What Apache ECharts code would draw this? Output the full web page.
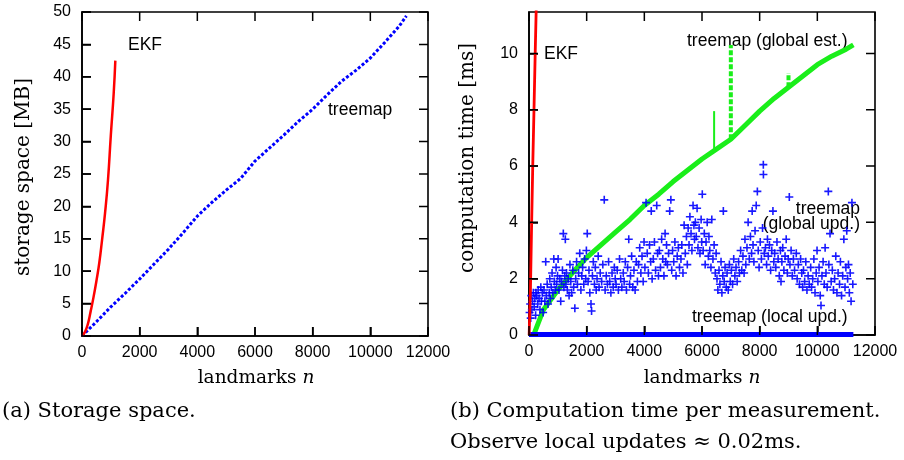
<!DOCTYPE html>
<html>
<head>
<meta charset="utf-8">
<script src="https://cdn.jsdelivr.net/npm/echarts@6/dist/echarts.min.js"></script>
<style>
html,body{margin:0;padding:0;background:#fff;}
#chart{width:904px;height:460px;}
</style>
</head>
<body>
<div id="chart"></div>
<script>
// ---------- data ----------
// tick values
const landmarkTicks = [0, 2000, 4000, 6000, 8000, 10000, 12000];
const storageTicks  = [0, 5, 10, 15, 20, 25, 30, 35, 40, 45, 50];
const timeTicks     = [0, 2, 4, 6, 8, 10];

// (a) storage space [MB] vs landmarks n
const storageEkfN  = [0, 100, 200, 300, 400, 500, 600, 700, 800, 900, 1000, 1100, 1156];
const storageEkfMB = [0, 0.6, 1.8, 3.8, 6.0, 8.5, 11.3, 15.0, 19.0, 24.0, 31.0, 37.5, 42.5];
const storageTreeN  = [0, 500, 1000, 1500, 2000, 2500, 3000, 3500, 4000, 4500, 5000, 5500, 6000, 6500, 7000, 7500, 8000, 8500, 9000, 9500, 10000, 10500, 11000, 11250];
const storageTreeMB = [0, 2.2, 4.5, 6.6, 8.8, 11.1, 13.4, 15.9, 18.5, 20.6, 22.5, 24.3, 27.0, 29.0, 31.0, 33.1, 35.0, 37.2, 39.3, 41.0, 42.9, 45.3, 47.8, 49.4];

// (b) computation time [ms] vs landmarks n
const timeEkfN  = [5, 50, 92, 130, 173, 215, 255];
const timeEkfMs = [0, 1.6, 4.0, 6.0, 8.0, 10.0, 11.8];
const globalEstN  = [180, 500, 1000, 1500, 2000, 2500, 3000, 3500, 4000, 4500, 5000, 5500, 6000, 6500, 7000, 7500, 8000, 8500, 9000, 9500, 10000, 10500, 11000, 11250];
const globalEstMs = [0.05, 0.9, 1.6, 2.2, 2.75, 3.2, 3.65, 4.1, 4.6, 5.0, 5.45, 5.85, 6.25, 6.6, 6.95, 7.45, 7.95, 8.4, 8.8, 9.2, 9.6, 9.9, 10.15, 10.3];
// spikes: [n, from ms, to ms]
const globalEstSpikes = [[6420, 6.5, 7.95], [7000, 6.95, 10.3], [9000, 8.8, 9.3]];
const localUpdN  = [0, 11250];
const localUpdMs = [0.02, 0.02];
// treemap (global upd.) measurements: [n, ms]
const globalUpd = [
[20,0.8],[40,1.1],[60,0.6],[80,1.4],[100,0.9],[120,1.2],[150,1.5],[180,1.0],[200,1.3],[230,0.7],[240,1.5],
[270,1.4],[300,1.1],[320,1.6],[350,1.3],[380,0.9],[410,1.7],[430,1.2],[460,1.5],[490,0.8],
[520,1.6],[550,1.2],[580,2.6],[600,1.4],[630,1.8],[660,1.1],[700,1.5],[720,2.0],[740,1.3],
[770,1.7],[800,2.2],[830,1.5],[860,2.7],[880,1.9],[910,1.6],[940,2.4],[960,1.8],[990,2.1],
[1010,2.7],[1040,1.6],[1070,2.0],[1100,1.2],[1130,1.9],[1160,2.3],[1190,3.6],[1210,1.7],[1240,2.1],
[1260,3.4],[1280,1.8],[1300,2.2],[1330,1.6],[1360,2.0],[1390,1.4],[1420,2.5],[1450,1.9],[1480,1.5],
[1520,2.3],[1550,1.7],[1590,0.95],[1620,2.0],[1650,2.6],[1680,1.8],[1720,2.2],
[1760,2.9],[1800,1.6],[1830,2.1],[1860,2.4],[1900,1.8],[1930,2.7],[1970,2.0],[1990,3.0],
[2020,3.6],[2050,1.9],[2080,2.3],[2110,1.5],[2150,1.1],[2170,0.85],[2200,2.1],[2230,2.6],
[2270,1.8],[2300,2.4],[2330,1.6],[2360,2.0],[2400,2.8],[2430,1.7],[2470,2.2],
[2520,1.9],[2560,2.5],[2610,4.8],[2640,1.6],[2680,2.1],[2720,1.8],
[2760,2.6],[2800,1.9],[2840,1.5],[2880,2.2],[2920,1.7],[2960,2.4],[2990,2.0],
[3020,1.8],[3060,2.3],[3100,1.6],[3140,2.7],[3180,2.0],[3220,1.7],
[3270,2.2],[3300,1.9],[3340,2.6],[3380,1.6],[3420,2.4],[3460,3.4],[3490,1.8],
[3520,2.1],[3560,2.8],[3600,1.7],[3640,2.3],[3680,1.6],[3720,2.6],
[3760,1.9],[3800,2.5],[3840,3.1],[3880,2.2],[3920,2.8],[3960,1.9],[3990,3.3],
[4020,2.4],[4060,4.7],[4100,2.9],[4140,2.2],[4180,3.2],[4220,2.6],[4240,4.4],
[4270,2.0],[4310,2.7],[4350,3.3],[4390,2.3],[4430,4.6],[4460,2.9],[4490,2.1],
[4520,3.0],[4560,2.4],[4600,3.4],[4640,2.7],[4680,2.1],[4720,3.6],[4740,2.6],
[4770,3.2],[4800,2.5],[4840,2.9],[4880,4.4],[4920,4.8],[4950,2.3],[4980,3.0],
[5020,2.6],[5060,3.3],[5100,2.1],[5140,2.8],[5180,3.1],[5220,2.4],
[5270,2.7],[5300,3.2],[5340,2.2],[5380,3.9],[5420,2.9],[5460,3.5],[5490,2.5],
[5520,3.8],[5550,3.2],[5580,4.2],[5620,3.6],[5650,3.0],[5690,4.6],[5720,3.9],[5740,3.4],
[5770,4.0],[5800,3.5],[5830,4.5],[5860,3.1],[5900,3.8],[5930,2.9],[5970,4.1],[5990,3.3],
[6010,5.0],[6040,3.0],[6080,3.6],[6110,2.5],[6140,3.3],[6180,4.0],[6220,2.8],[6240,3.5],
[6270,3.0],[6310,2.4],[6340,4.1],[6380,2.7],[6420,3.2],[6460,2.2],[6490,2.9],
[6520,2.0],[6550,1.6],[6590,2.3],[6620,1.8],[6660,2.6],[6690,1.5],[6720,2.1],[6740,4.4],
[6770,1.9],[6800,2.4],[6840,1.7],[6870,2.2],[6910,1.6],[6950,2.5],[6980,1.9],
[7020,2.3],[7060,1.8],[7100,2.7],[7140,2.1],[7180,2.4],[7220,1.9],
[7270,2.6],[7300,2.2],[7340,3.0],[7380,2.3],[7420,2.8],[7460,2.2],[7490,3.4],
[7520,2.5],[7560,3.1],[7600,4.0],[7640,2.7],[7680,3.5],[7720,2.9],[7740,4.4],
[7770,3.2],[7800,2.6],[7840,3.7],[7880,4.6],[7920,5.1],[7950,3.0],[7980,2.4],
[8020,3.3],[8060,2.7],[8100,3.8],[8127,6.05],[8130,5.7],[8160,2.9],[8200,3.1],[8240,2.5],
[8270,3.4],[8300,2.8],[8340,3.2],[8380,2.3],[8420,3.0],[8460,4.4],[8490,2.6],
[8520,2.9],[8560,2.4],[8600,3.3],[8640,2.7],[8680,2.1],[8720,3.0],[8740,1.9],
[8770,2.6],[8800,3.1],[8840,2.3],[8880,2.8],[8920,3.4],[8960,2.2],[8990,2.7],
[9028,4.9],[9050,2.5],[9090,3.0],[9130,2.1],[9170,2.7],[9210,2.3],
[9270,2.9],[9300,2.0],[9340,2.5],[9380,1.8],[9420,2.7],[9460,2.2],[9490,1.7],
[9520,2.3],[9560,1.9],[9600,2.6],[9640,1.6],[9680,2.1],[9720,1.8],
[9770,2.4],[9800,1.7],[9840,2.0],[9880,2.7],[9920,1.5],[9960,2.2],[9990,3.0],
[10020,1.9],[10060,2.4],[10100,1.4],[10127,1.05],[10160,2.1],[10200,2.6],[10240,1.8],
[10270,3.1],[10300,2.2],[10340,1.7],[10381,5.1],[10400,2.5],[10440,3.6],[10480,1.9],
[10520,2.3],[10560,1.6],[10600,2.0],[10640,2.8],[10680,1.5],[10720,2.2],
[10770,1.8],[10800,2.6],[10840,1.4],[10880,2.1],[10920,3.4],[10960,1.7],[10990,2.4],
[11020,3.7],[11050,2.0],[11080,2.5],[11110,1.5],[11140,2.2],[11170,1.2],[11200,4.7],[11230,1.8]
];

// ---------- rendering ----------
const RED = '#ff0000', GREEN = '#1aee1a', BLUE = '#0000ff';
const SANS = 'Liberation Sans', SERIF = 'DejaVu Serif';
const zip = (a, b) => a.map((v, i) => [v, b[i]]);
const PLUS = 'path://M4,0H6V4H10V6H6V10H4V6H0V4H4Z';
const GRIDS = [
  {left: 82, top: 12, width: 346, height: 324, show: true, borderColor: '#000', borderWidth: 1.6, backgroundColor: 'rgba(0,0,0,0)'},
  {left: 529, top: 12, width: 346, height: 323, show: true, borderColor: '#000', borderWidth: 1.6, backgroundColor: 'rgba(0,0,0,0)'}
];
const X_MAX = 12000;
const Y_MAX = [50, 11.47];
const TL = 9;
const TICK = {show: true, inside: true, length: TL, lineStyle: {color: '#000', width: 1.5}};

function xAxis(grid) {
  return {type: 'value', gridIndex: grid, min: 0, max: X_MAX, interval: 2000, position: 'bottom',
    splitLine: {show: false}, axisTick: TICK,
    axisLine: {show: true, onZero: false, lineStyle: {color: '#000', width: 1.6}},
    axisLabel: {color: '#000', fontFamily: SANS, fontSize: 16, margin: 9, formatter: v => String(v)}};
}
function yAxis(grid, interval) {
  const max = Y_MAX[grid];
  return {type: 'value', gridIndex: grid, min: 0, max: max, interval: interval, position: 'left',
    splitLine: {show: false}, axisTick: TICK,
    axisLine: {show: true, onZero: false, lineStyle: {color: '#000', width: 1.6}},
    axisLabel: {color: '#000', fontFamily: SANS, fontSize: 16, margin: 11, showMaxLabel: max % interval === 0, formatter: v => String(v)}};
}
const P = [{xAxisIndex: 0, yAxisIndex: 0}, {xAxisIndex: 1, yAxisIndex: 1}];

// gnuplot-style inward ticks on all four sides, as short segments in data space
// (pixel length converted through each grid's scale)
function tickSeries(grid, yTicks) {
  const dy = TL / GRIDS[grid].height * Y_MAX[grid];
  const dx = TL / GRIDS[grid].width * X_MAX;
  const data = [];
  landmarkTicks.forEach(v => {
    data.push([v, 0], [v, dy], [v, '-']);
    data.push([v, Y_MAX[grid]], [v, Y_MAX[grid] - dy], [v, '-']);
  });
  yTicks.forEach(v => {
    data.push([0, v], [dx, v], ['-', v]);
    data.push([X_MAX, v], [X_MAX - dx, v], ['-', v]);
  });
  return Object.assign({
    type: 'line', symbol: 'none', silent: true, clip: false, connectNulls: false, data: data, z: 20,
    lineStyle: {color: '#000', width: 1.5}
  }, P[grid]);
}

const spikeSeries = globalEstSpikes.map((s, i) => Object.assign({
  type: 'line', symbol: 'none', silent: true,
  data: [[s[0], s[1]], [s[0], s[2]]],
  lineStyle: {color: GREEN, width: i === 0 ? 2 : 4, type: i === 0 ? 'solid' : [5, 2]},
  z: 3
}, P[1]));

const txt = (x, y, text, opts) => ({
  type: 'text', x: x, y: y,
  style: Object.assign({text: text, fill: '#000', font: '17.5px "' + SANS + '"', textVerticalAlign: 'middle'}, opts || {})
});
const serifRich = size => ({
  r: {fontFamily: SERIF, fontSize: size, fill: '#000'},
  i: {fontFamily: SERIF, fontSize: size, fontStyle: 'italic', fill: '#000'}
});

const option = {
  animation: false,
  backgroundColor: '#fff',
  grid: GRIDS,
  xAxis: [xAxis(0), xAxis(1)],
  yAxis: [yAxis(0, 5), yAxis(1, 2)],
  series: [
    Object.assign({type: 'line', symbol: 'none', smooth: true,
     data: zip(storageEkfN, storageEkfMB), lineStyle: {color: RED, width: 2.5}, z: 4}, P[0]),
    Object.assign({type: 'line', symbol: 'none',
     data: zip(storageTreeN, storageTreeMB), lineStyle: {color: BLUE, width: 3, type: [3, 2]}, z: 3}, P[0]),
    Object.assign({type: 'line', symbol: 'none',
     data: zip(globalEstN, globalEstMs), lineStyle: {color: GREEN, width: 5}, z: 3}, P[1]),
    ...spikeSeries,
    Object.assign({type: 'scatter', symbol: PLUS, symbolSize: 8,
     data: globalUpd, itemStyle: {color: BLUE, opacity: 0.9}, z: 4}, P[1]),
    Object.assign({type: 'line', symbol: 'none',
     data: zip(localUpdN, localUpdMs), lineStyle: {color: BLUE, width: 5}, z: 5}, P[1]),
    Object.assign({type: 'line', symbol: 'none',
     data: zip(timeEkfN, timeEkfMs), lineStyle: {color: RED, width: 2.8}, z: 6}, P[1]),
    tickSeries(0, storageTicks),
    tickSeries(1, timeTicks)
  ],
  graphic: [
    // in-plot labels
    txt(128, 45, 'EKF'),
    txt(328, 110, 'treemap'),
    txt(544, 54, 'EKF'),
    txt(687, 41, 'treemap (global est.)'),
    txt(860, 209, 'treemap', {textAlign: 'right'}),
    txt(860, 224, '(global upd.)', {textAlign: 'right'}),
    txt(692, 317, 'treemap (local upd.)'),
    // axis titles
    {type: 'text', x: 24, y: 177, rotation: Math.PI / 2,
     style: {text: 'storage space [MB]', fill: '#000', font: '20px "' + SERIF + '"', textAlign: 'center', textVerticalAlign: 'middle'}},
    {type: 'text', x: 468, y: 158, rotation: Math.PI / 2,
     style: {text: 'computation time [ms]', fill: '#000', font: '20px "' + SERIF + '"', textAlign: 'center', textVerticalAlign: 'middle'}},
    {type: 'text', x: 256, y: 378,
     style: {rich: serifRich(18.5), text: '{r|landmarks }{i|n}', textAlign: 'center', textVerticalAlign: 'middle'}},
    {type: 'text', x: 702, y: 378,
     style: {rich: serifRich(18.5), text: '{r|landmarks }{i|n}', textAlign: 'center', textVerticalAlign: 'middle'}},
    // captions
    {type: 'text', x: 2, y: 412, style: {text: '(a) Storage space.', fill: '#000', font: '21px "' + SERIF + '"', textVerticalAlign: 'middle'}},
    {type: 'text', x: 450, y: 412, style: {text: '(b) Computation time per measurement.', fill: '#000', font: '21px "' + SERIF + '"', textVerticalAlign: 'middle'}},
    {type: 'text', x: 450, y: 443, style: {text: 'Observe local updates \u2248 0.02ms.', fill: '#000', font: '21px "' + SERIF + '"', textVerticalAlign: 'middle'}}
  ]
};

const chart = echarts.init(document.getElementById('chart'), null, {renderer: 'canvas'});
chart.setOption(option);
</script>
</body>
</html>
